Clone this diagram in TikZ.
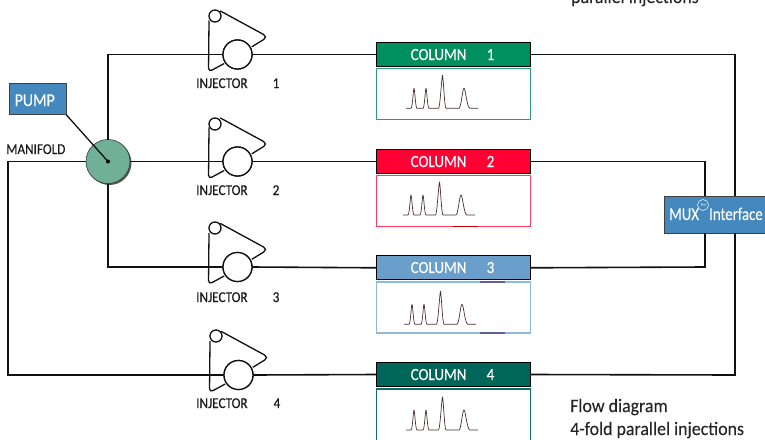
\documentclass[tikz,border=0pt]{standalone}
\usepackage{fontspec}
\setmainfont{Carlito}
\newfontfamily\cond[FakeStretch=0.88,FakeBold=0.25]{Carlito}
\newfontfamily\condw[FakeStretch=0.82,FakeBold=0.2]{Carlito}
\newfontfamily\notefont[FakeStretch=0.94,FakeBold=0.1]{Carlito}
\definecolor{cA}{HTML}{00905F}
\definecolor{cB}{HTML}{FF0033}
\definecolor{cC}{HTML}{6A9FCB}
\definecolor{cD}{HTML}{00665A}
\definecolor{bA}{HTML}{2A9D78}
\definecolor{bB}{HTML}{FF3D63}
\definecolor{bC}{HTML}{8DB9DD}
\definecolor{bD}{HTML}{0F6E62}
\definecolor{muxblue}{HTML}{4588BD}
\definecolor{mangreen}{HTML}{6FB096}
\definecolor{linecol}{HTML}{111111}
\definecolor{peak}{HTML}{4A3032}
\tikzset{
 x=1pt,y=-1pt,
 pipe/.style={draw=linecol,line width=1.6pt},
 bluebox/.style={draw=black!75,line width=0.8pt,fill=muxblue,text=white,inner sep=0pt,outer sep=0pt,anchor=north west},
 header/.style={draw=black,line width=1.1pt,minimum width=153.5pt,minimum height=24pt,inner sep=0pt,outer sep=0pt,anchor=north west},
 result/.style={draw=#1,fill=white,line width=1.1pt,minimum width=153.5pt,minimum height=51pt,inner sep=0pt,outer sep=0pt,anchor=north west},
 bigc/.style={circle,draw=linecol,line width=1.3pt,fill=white,minimum size=29pt,inner sep=0pt,outer sep=0pt},
 smallc/.style={circle,draw=linecol,line width=1.3pt,fill=white,minimum size=12pt,inner sep=0pt,outer sep=0pt},
 lab/.style={text=black!90,font=\cond\fontsize{15}{15}\selectfont,inner sep=0pt},
 collab/.style={text=white,font=\cond\fontsize{17}{17}\selectfont,inner sep=0pt},
 muxlab/.style={text=white,font=\condw\fontsize{18}{18}\selectfont,inner sep=0pt,anchor=base west},
 note/.style={text=black!85,font=\notefont\fontsize{19}{19}\selectfont,inner sep=0pt,anchor=base west},
 pics/injector/.style={code={
  \draw[linecol,line width=1.3pt,rounded corners=5pt] (-17.3,-43.6) -- (30.5,-17.6) -- (14.3,-7.7);
  \draw[linecol,line width=1.3pt,rounded corners=4pt] (-28.5,-34) -- (-29,17.5) -- (-13.3,9);
 }},
 pics/peaks/.style={code={
  \draw[peak,line width=0.7pt,line join=round]
   (0,0) -- (5,0) .. controls (6.5,0) and (7.3,-20) .. (8,-20) .. controls (8.7,-20) and (9.5,0) .. (11,0)
   -- (17,0) .. controls (18.5,0) and (19.3,-20) .. (20,-20) .. controls (20.7,-20) and (21.5,0) .. (23,0)
   -- (32.5,0) .. controls (34,0) and (35.8,-33) .. (36.5,-33) .. controls (37.2,-33) and (38.5,0) .. (40,0)
   -- (53,0) .. controls (55,0) and (56.5,-20) .. (58,-20) .. controls (59.5,-20) and (61,0) .. (64,0) -- (72,0);
 }}
}
\begin{document}
\begin{tikzpicture}
\useasboundingbox (0,0) rectangle (765,439);
\begin{scope}
\clip (0,0) rectangle (765,439);
\fill[white] (0,0) rectangle (765,439);

% nodes
\node[circle,fill=black!65,minimum size=44pt,inner sep=0pt] at (109.5,163) {};
\node[circle,draw=black!80,line width=0.6pt,fill=mangreen,minimum size=44pt,inner sep=0pt,outer sep=0pt] (man) at (108,161.5) {};
\node[bluebox,minimum width=57pt,minimum height=31pt] (pump) at (9.2,83.7) {};
\node[text=white,font=\cond\fontsize{18}{18}\selectfont,inner sep=0pt,anchor=base west] (pumpt) at (14.5,106) {PUMP};
\node[lab,anchor=base west] (manl) at (6,154) {MANIFOLD};

\node[bigc] (inj1) at (237.5,54.5) {};
\node[bigc] (inj2) at (237.5,161.5) {};
\node[bigc] (inj3) at (237.5,267) {};
\node[bigc] (inj4) at (238.5,375) {};

\node[header,fill=cA] (col1) at (376.8,42.5) {};
\node[header,fill=cB] (col2) at (376.8,149.5) {};
\node[header,fill=cC] (col3) at (376.8,255.8) {};
\node[header,fill=cD] (col4) at (376.8,362.5) {};

\node[bluebox,minimum width=102pt,minimum height=37pt] (mux) at (664,196) {};

\coordinate (tl) at (108,54.5);
\coordinate (bl) at (108,267);
\coordinate (lt) at (8,161.5);
\coordinate (lb) at (8,375);
\coordinate (ra) at (735,54.5);
\coordinate (rb) at (735,375);
\coordinate (qa) at (705,161.5);
\coordinate (qb) at (705,267);

% connectors
\draw[pipe] (man.north) -- (tl) -- (inj1.west);
\draw[pipe] (man.east) -- (inj2.west);
\draw[pipe] (man.south) -- (bl) -- (inj3.west);
\draw[pipe] (man.west) -- (lt) -- (lb) -- (inj4.west);
\draw[pipe] (inj1.east) -- (col1.west);
\draw[pipe] (inj2.east) -- (col2.west);
\draw[pipe] (inj3.east) -- (col3.west);
\draw[pipe] (inj4.east) -- (col4.west);
\draw[pipe] (col1.east) -- (ra) -- (mux.north -| ra);
\draw[pipe] (mux.south -| ra) -- (rb) -- (col4.east);
\draw[pipe] (col2.east) -- (qa) -- (mux.north -| qa);
\draw[pipe] (mux.south -| qb) -- (qb) -- (col3.east);
\draw[linecol,line width=1.3pt] (pump.south east) -- (man.center);
\fill[black] (man.center) circle (2pt);

% injectors
\pic at (237.5,54.5) {injector};
\pic at (237.5,161.5) {injector};
\pic at (237.5,267) {injector};
\pic at (238.5,375) {injector};
\node[bigc] at (inj1) {};
\node[bigc] at (inj2) {};
\node[bigc] at (inj3) {};
\node[bigc] at (inj4) {};
\node[smallc] (s1) at (215,16) {};
\node[smallc] (s2) at (215,124) {};
\node[smallc] (s3) at (215,228) {};
\node[smallc] (s4) at (216,336) {};

\node[lab,anchor=base west] (il1) at (196,88) {INJECTOR};
\node[lab,anchor=base west] (il2) at (196,195) {INJECTOR};
\node[lab,anchor=base west] (il3) at (196,302) {INJECTOR};
\node[lab,anchor=base west] (il4) at (196,408) {INJECTOR};
\node[lab,anchor=base] (in1) at (276,88) {1};
\node[lab,anchor=base] (in2) at (276,195) {2};
\node[lab,anchor=base] (in3) at (276,302) {3};
\node[lab,anchor=base] (in4) at (277,408) {4};

% columns
\node[result=bA] (box1) at (376.8,68.5) {};
\node[result=bB] (box2) at (376.8,175.5) {};
\node[result=bC] (box3) at (376.8,282) {};
\node[result=bD,minimum height=60pt] (box4) at (376.8,389) {};
\draw[red!80!black,line width=1.1pt] (453,226.5) -- (478,226.5);
\draw[blue!25!gray,line width=1.1pt] (480,282) -- (505,282) (480,333) -- (505,333);
\pic at (406,108.3) {peaks};
\pic at (403,215) {peaks};
\pic at (404,324.3) {peaks};
\pic at (406,430) {peaks};

\node[collab,anchor=base west] (cl1) at (410.5,60) {COLUMN};
\node[collab,anchor=base west] (cl2) at (410.5,167) {COLUMN};
\node[collab,anchor=base west] (cl3) at (410.5,273) {COLUMN};
\node[collab,anchor=base west] (cl4) at (410.5,380) {COLUMN};
\node[collab,anchor=base] (cn1) at (490.5,60) {1};
\node[collab,anchor=base] (cn2) at (490.5,167) {2};
\node[collab,anchor=base] (cn3) at (490.5,273) {3};
\node[collab,anchor=base] (cn4) at (490.5,380) {4};

% mux text
\node[muxlab] (muxa) at (669,220) {MUX};
\node[muxlab] (muxb) at (709,220) {Interface};
\node[circle,draw=white,line width=0.5pt,minimum size=11pt,inner sep=0pt,text=white,font=\fontsize{4}{4}\selectfont] (tm) at (703,205) {TM};

% notes
\node[note] (n0) at (571,3) {parallel injections};
\node[note] (n1) at (570,412) {Flow diagram};
\node[note] (n2) at (570,435) {4-fold parallel injections};
\end{scope}
\end{tikzpicture}
\end{document}
